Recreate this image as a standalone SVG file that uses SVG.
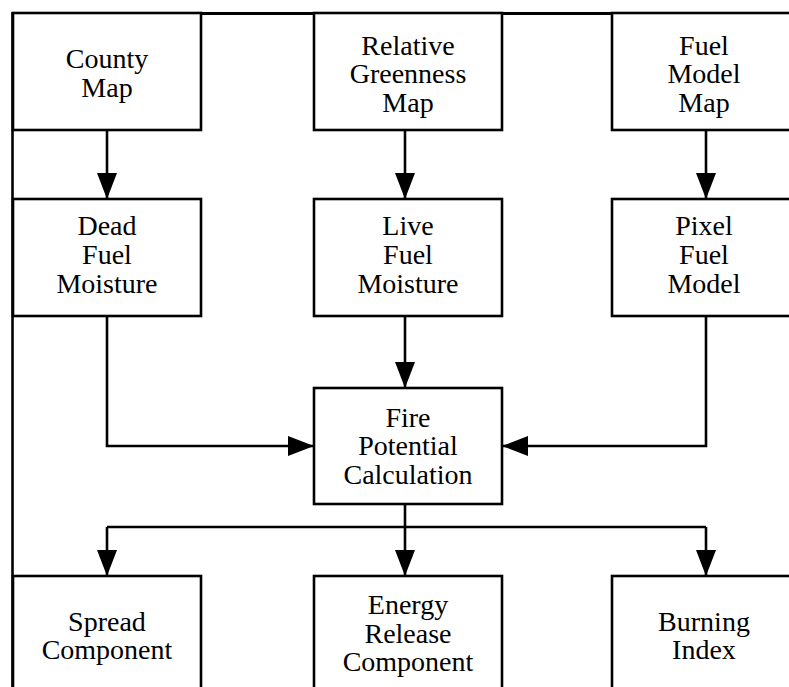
<svg xmlns="http://www.w3.org/2000/svg" width="789" height="687" viewBox="0 0 789 687">
<defs>
<marker id="ah" markerUnits="userSpaceOnUse" markerWidth="26" markerHeight="20" viewBox="0 0 26 20" refX="26" refY="10" orient="auto">
<path d="M0,0 L26,10 L0,20 Z" fill="#000"/>
</marker>
<style>
.box{fill:#fff;stroke:#000;stroke-width:2.6}
.lbl{font-size:28px;fill:#000;text-anchor:middle}
.con{fill:none;stroke:#000;stroke-width:2.6}
</style>
</defs>
<rect x="0" y="0" width="789" height="687" fill="#fff"/>
<g id="frame">
<line x1="12.5" y1="12" x2="12.5" y2="687" stroke="#000" stroke-width="2.6"/>
<line x1="12" y1="13.5" x2="789" y2="13.5" stroke="#000" stroke-width="3"/>
</g>
<g id="connectors">
<path class="con" d="M107,130 V199" marker-end="url(#ah)"/>
<path class="con" d="M405,130 V199" marker-end="url(#ah)"/>
<path class="con" d="M706,130 V199" marker-end="url(#ah)"/>
<path class="con" d="M405,316 V388" marker-end="url(#ah)"/>
<path class="con" d="M107,316 V446 H314" marker-end="url(#ah)"/>
<path class="con" d="M706,316 V446 H502" marker-end="url(#ah)"/>
<path class="con" d="M405,504 V527"/>
<path class="con" d="M107,527 H706"/>
<path class="con" d="M107,527 V576" marker-end="url(#ah)"/>
<path class="con" d="M405,527 V576" marker-end="url(#ah)"/>
<path class="con" d="M706,527 V576" marker-end="url(#ah)"/>
</g>
<g font-family="Liberation Serif, Times New Roman, serif">
<g id="county-map">
<rect class="box" x="13" y="13" width="188" height="117"/>
<text class="lbl" x="107" y="68">County</text>
<text class="lbl" x="107" y="97">Map</text>
</g>
<g id="relative-greenness-map">
<rect class="box" x="314" y="13" width="188" height="117"/>
<text class="lbl" x="408" y="55">Relative</text>
<text class="lbl" x="408" y="83">Greenness</text>
<text class="lbl" x="408" y="112">Map</text>
</g>
<g id="fuel-model-map">
<rect class="box" x="612" y="13" width="188" height="117"/>
<text class="lbl" x="704" y="55">Fuel</text>
<text class="lbl" x="704" y="83">Model</text>
<text class="lbl" x="704" y="112">Map</text>
</g>
<g id="dead-fuel-moisture">
<rect class="box" x="13" y="199" width="188" height="117"/>
<text class="lbl" x="107" y="235">Dead</text>
<text class="lbl" x="107" y="264">Fuel</text>
<text class="lbl" x="107" y="293">Moisture</text>
</g>
<g id="live-fuel-moisture">
<rect class="box" x="314" y="199" width="188" height="117"/>
<text class="lbl" x="408" y="235">Live</text>
<text class="lbl" x="408" y="264">Fuel</text>
<text class="lbl" x="408" y="293">Moisture</text>
</g>
<g id="pixel-fuel-model">
<rect class="box" x="612" y="199" width="188" height="117"/>
<text class="lbl" x="704" y="235">Pixel</text>
<text class="lbl" x="704" y="264">Fuel</text>
<text class="lbl" x="704" y="293">Model</text>
</g>
<g id="fire-potential-calculation">
<rect class="box" x="314" y="388" width="188" height="116"/>
<text class="lbl" x="408" y="427">Fire</text>
<text class="lbl" x="408" y="455">Potential</text>
<text class="lbl" x="408" y="484">Calculation</text>
</g>
<g id="spread-component">
<rect class="box" x="13" y="576" width="188" height="140"/>
<text class="lbl" x="107" y="631">Spread</text>
<text class="lbl" x="107" y="659">Component</text>
</g>
<g id="energy-release-component">
<rect class="box" x="314" y="576" width="188" height="140"/>
<text class="lbl" x="408" y="614">Energy</text>
<text class="lbl" x="408" y="643">Release</text>
<text class="lbl" x="408" y="671">Component</text>
</g>
<g id="burning-index">
<rect class="box" x="612" y="576" width="188" height="140"/>
<text class="lbl" x="704" y="631">Burning</text>
<text class="lbl" x="704" y="659">Index</text>
</g>
</g>
</svg>
